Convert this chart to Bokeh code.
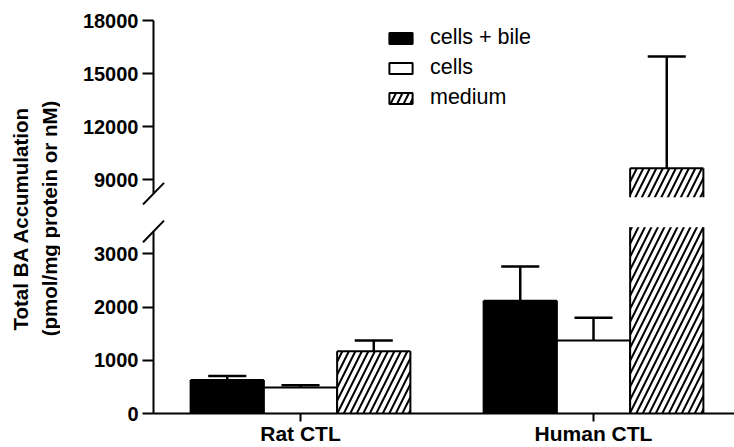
import math
from bokeh.plotting import figure
from bokeh.models import (ColumnDataSource, Range1d, FixedTicker, Legend, LegendItem, Arrow)
from bokeh.layouts import row, column
from bokeh.core.properties import value
from bokeh.embed import file_html
from bokeh.resources import INLINE

# ---- data ----
groups = ["Rat CTL", "Human CTL"]
series = ["cells + bile", "cells", "medium"]
cells_bile = [630, 2120]
cells_bile_err = [75, 640]
cells = [490, 1370]
cells_err = [40, 430]
medium = [1170, 9640]
medium_err = [200, 6320]

lower_ticks = [0, 1000, 2000, 3000]
upper_ticks = [9000, 12000, 15000, 18000]
lower_seg = (0, 3500)       # lower part of the broken axis
upper_seg = (8000, 18000)   # upper part of the broken axis
axis_lo_end = 3420          # where the lower axis line stops (break mark)
axis_up_start = 8200        # where the upper axis line starts (break mark)

FONT = "Liberation Sans"
x_pos = [1, 2]
offsets = [-0.25, 0.0, 0.25]
bar_w = 0.25
cap_half = 0.065
Y_AXIS_X = 0.4983
PX_X = 1 / 293.0            # data units of x per pixel
LAB_W = 60
FRAME_L = 70                # frame starts left of the axis so that tick labels stay inside
X_RANGE = (Y_AXIS_X - (153 - FRAME_L) * PX_X, 2.4812)

values = [cells_bile, cells, medium]
errors = [cells_bile_err, cells_err, medium_err]
styles = [
    dict(fill_color="black"),
    dict(fill_color="white"),
    dict(fill_color="white", hatch_pattern="/", hatch_color="black", hatch_weight=2, hatch_scale=13),
]
LW = 2

# pixel scales of the two segments
UP_PX = 1000 / 17.67
LO_PX = 1000 / 53.24
up_range = (upper_seg[1] - 185 * UP_PX, upper_seg[1] + 8 * UP_PX)
lo_range = (-34 * LO_PX, 195 * LO_PX)   # room below zero for the category labels


def draw_series(p, seg, upper):
    for vals, errs, off, st in zip(values, errors, offsets, styles):
        if upper:
            keep = [i for i, v in enumerate(vals) if v > seg[0]]
        else:
            keep = list(range(len(vals)))
        xs = [x_pos[i] + off for i in keep]
        tops = [min(vals[i], seg[1]) for i in keep]
        base = seg[0] if upper else 0
        src = ColumnDataSource(dict(
            x=xs, top=tops,
            left=[x - bar_w / 2 for x in xs], right=[x + bar_w / 2 for x in xs]))
        p.vbar(x="x", top="top", bottom=base, width=bar_w, source=src, line_color=None, **st)
        for k in ("left", "right"):
            p.segment(x0=k, y0=base, x1=k, y1="top", source=src, line_color="black", line_width=LW)
        # top edge and error bar only where the bar ends inside this segment
        full = [i for i in keep if seg[0] < vals[i] <= seg[1]]
        fx = [x_pos[i] + off for i in full]
        esrc = ColumnDataSource(dict(
            x=fx, top=[vals[i] for i in full],
            err_top=[vals[i] + errs[i] for i in full],
            left=[x - bar_w / 2 for x in fx], right=[x + bar_w / 2 for x in fx],
            cx0=[x - cap_half for x in fx], cx1=[x + cap_half for x in fx]))
        p.segment(x0="left", y0="top", x1="right", y1="top", source=esrc,
                  line_color="black", line_width=LW)
        p.segment(x0="x", y0="top", x1="x", y1="err_top", source=esrc,
                  line_color="black", line_width=2.5)
        p.segment(x0="cx0", y0="err_top", x1="cx1", y1="err_top", source=esrc,
                  line_color="black", line_width=2.5)


def style_axis(ax):
    ax.axis_line_width = 2
    ax.axis_line_color = "black"
    ax.major_tick_line_width = 2
    ax.major_tick_line_color = "black"
    ax.major_tick_in = 0
    ax.minor_tick_line_color = None
    ax.major_label_text_font = FONT
    ax.major_label_text_font_style = "bold"
    ax.major_label_text_color = "black"


def style_yaxis(ax, ticks, bounds):
    style_axis(ax)
    ax.ticker = FixedTicker(ticks=ticks)
    ax.bounds = bounds
    ax.fixed_location = Y_AXIS_X
    ax.major_tick_out = 11
    ax.major_label_standoff = 4
    ax.major_label_text_font_size = "20px"


W = 734 - LAB_W
BL = FRAME_L - LAB_W
up = figure(width=W, height=205, x_range=Range1d(*X_RANGE), y_range=Range1d(*up_range),
            x_axis_location=None, toolbar_location=None, output_backend="svg",
            min_border_left=BL, min_border_right=0, min_border_top=12, min_border_bottom=0)
lo = figure(width=W, height=242, x_range=Range1d(*X_RANGE), y_range=Range1d(*lo_range),
            toolbar_location=None, output_backend="svg",
            min_border_left=BL, min_border_right=0, min_border_top=13, min_border_bottom=0)

draw_series(up, upper_seg, True)
draw_series(lo, lower_seg, False)

# legend proxies: style carriers whose single value is NaN, so nothing is drawn
proxies = [up.vbar(x=[1.0], top=[float("nan")], width=bar_w,
                   line_color="black", line_width=LW, **st) for st in styles]

# break marks: short 45-degree slashes across the axis ends
for p, yc, ypx in ((up, axis_up_start, UP_PX), (lo, axis_lo_end, LO_PX)):
    p.add_layout(Arrow(start=None, end=None,
                       x_start=Y_AXIS_X - 10.5 * PX_X, y_start=yc - 10.8 * ypx,
                       x_end=Y_AXIS_X + 10.5 * PX_X, y_end=yc + 10.8 * ypx,
                       line_color="black", line_width=2))

style_yaxis(up.yaxis[0], upper_ticks, (axis_up_start, upper_seg[1]))
style_yaxis(lo.yaxis[0], lower_ticks, (lower_seg[0], axis_lo_end))

xa = lo.xaxis[0]
style_axis(xa)
xa.ticker = FixedTicker(ticks=x_pos)
xa.bounds = (Y_AXIS_X, X_RANGE[1])
xa.fixed_location = 0
xa.major_label_overrides = {x: g for x, g in zip(x_pos, groups)}
xa.major_tick_out = 8
xa.major_label_standoff = 0
xa.major_label_text_font_size = "21px"

for p in (up, lo):
    p.grid.visible = False
    p.outline_line_color = None
    p.background_fill_color = "white"
    p.border_fill_color = "white"

legend = Legend(items=[LegendItem(label=s, renderers=[r]) for s, r in zip(series, proxies)],
                location=(386 - FRAME_L, 94), orientation="vertical",
                glyph_width=29, glyph_height=14, label_height=27, spacing=3,
                label_standoff=15, padding=0, margin=0,
                label_text_font=FONT, label_text_font_size="21.5px", label_text_color="black",
                border_line_color=None, background_fill_alpha=0)
up.add_layout(legend)

# y-axis title
lab = figure(width=LAB_W, height=447, x_range=Range1d(0, LAB_W), y_range=Range1d(0, 447),
             toolbar_location=None, output_backend="svg", x_axis_location=None,
             y_axis_location=None, min_border=0)
lab.grid.visible = False
lab.outline_line_color = None
lab.text(x=[20, 48.5], y=[229, 229],
         text=["Total BA Accumulation", "(pmol/mg protein or nM)"],
         angle=math.pi / 2, text_align="center", text_baseline="middle",
         text_font=value(FONT), text_font_style="bold", text_font_size="20.5px",
         text_color="black")

layout = row(lab, column(up, lo))
open("out.html", "w").write(file_html(layout, INLINE))
